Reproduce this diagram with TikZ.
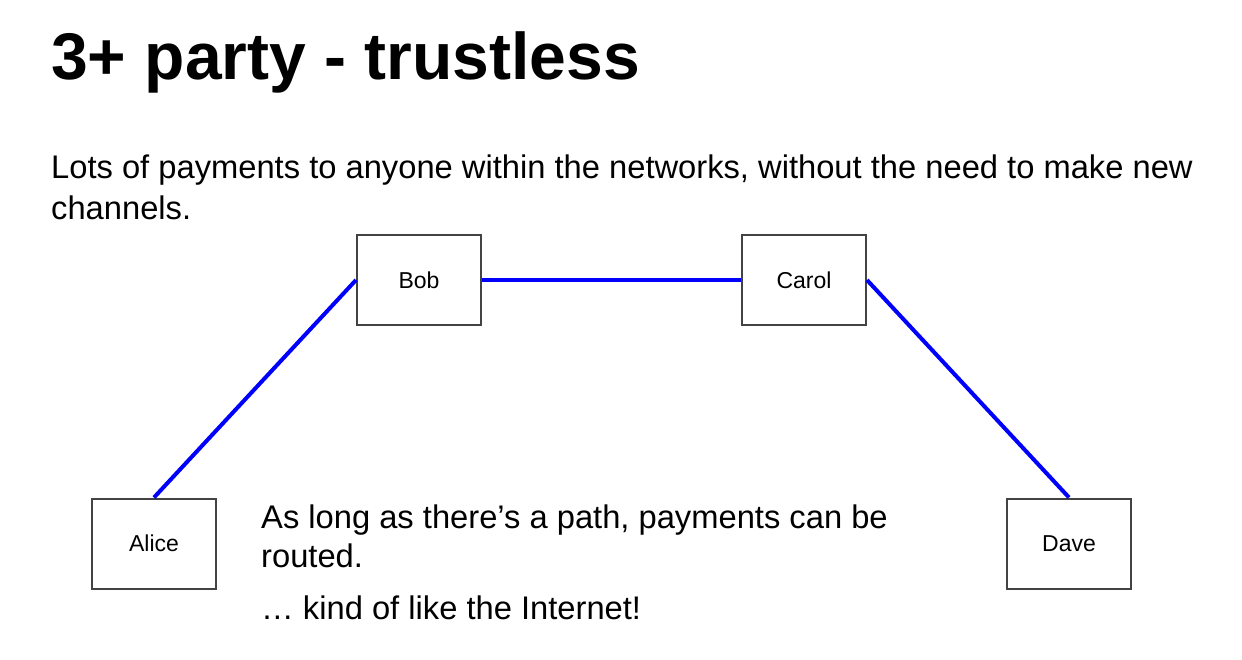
\documentclass[tikz,border=0pt]{standalone}
\usepackage{fontspec}
\setmainfont{Liberation Sans}
\usetikzlibrary{positioning}
\tikzset{
  peer/.style={draw={rgb,255:red,67;green,67;blue,67},line width=2pt,minimum width=124pt,minimum height=90pt,font=\fontsize{23}{26}\selectfont},
  chan/.style={draw={rgb,255:red,0;green,0;blue,255},line width=4pt}
}
\begin{document}
\begin{tikzpicture}[x=1pt,y=-1pt]
\useasboundingbox (0,0) rectangle (1242,660);

% Title
\node[anchor=base west,inner sep=0pt,font=\fontsize{66}{70}\selectfont\bfseries] (title) at (51,80) {3+ party - trustless};
% Text
\node[anchor=base west,inner sep=0pt,align=left,font=\fontsize{32.7}{41}\selectfont] (intro) at (51,220) {Lots of payments to anyone within the networks, without the need to make new\\channels.};

% Peers
\node[peer] (bob) at (419,280) {Bob};
\node[peer] (carol) at (804,280) {Carol};
\node[peer] (alice) at (154,543.5) {Alice};
\node[peer] (dave) at (1069,543.5) {Dave};

% Channels
\draw[chan] (alice.north) -- (bob.west);
\draw[chan] (bob.east) -- (carol.west);
\draw[chan] (carol.east) -- (dave.north);

% Text Node
\node[anchor=base west,inner sep=0pt,align=left,font=\fontsize{32.7}{39}\selectfont] (note) at (261,567) {As long as there’s a path, payments can be\\routed.};
\node[anchor=base west,inner sep=0pt,font=\fontsize{32.7}{34}\selectfont] (inet) at (261,619) {… kind of like the Internet!};
\end{tikzpicture}
\end{document}
